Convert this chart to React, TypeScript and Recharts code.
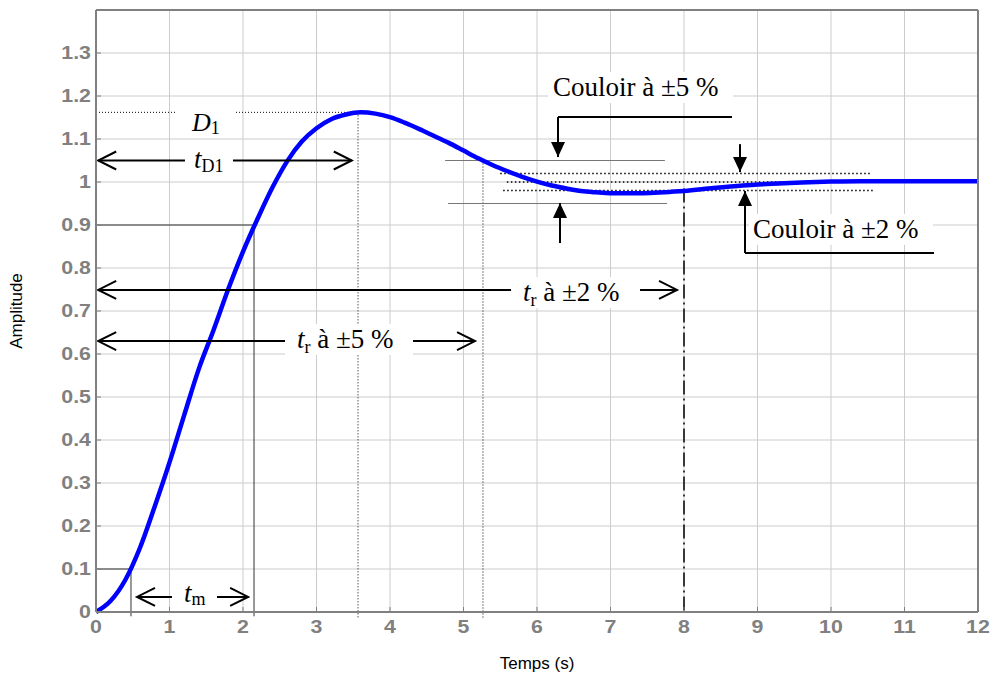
import type { ReactNode } from 'react'
import {
  LineChart,
  Line,
  XAxis,
  YAxis,
  CartesianGrid,
  ReferenceLine,
  ReferenceDot,
} from 'recharts'

// Step response (time in s, amplitude)
const time = [
  0, 0.2, 0.4, 0.6, 0.8, 1, 1.2, 1.4, 1.6, 1.8, 2, 2.2, 2.4, 2.6, 2.8, 3, 3.2, 3.4, 3.6, 3.8, 4,
  4.2, 4.4, 4.6, 4.8, 5, 5.2, 5.4, 5.6, 5.8, 6, 6.2, 6.4, 6.6, 6.8, 7, 7.2, 7.4, 7.6, 7.8, 8, 8.4,
  8.8, 9.2, 9.6, 10, 10.4, 11, 11.5, 12,
]
const amplitude = [
  0, 0.026, 0.075, 0.15, 0.246, 0.348, 0.458, 0.566, 0.656, 0.751, 0.838, 0.915, 0.987, 1.048,
  1.094, 1.125, 1.146, 1.157, 1.162, 1.159, 1.151, 1.138, 1.123, 1.107, 1.091, 1.073, 1.055,
  1.039, 1.025, 1.012, 1.001, 0.992, 0.985, 0.979, 0.976, 0.974, 0.974, 0.974, 0.975, 0.977,
  0.979, 0.986, 0.992, 0.996, 0.999, 1.001, 1.002, 1.002, 1.002, 1.002,
]
const timeTicks = [0, 1, 2, 3, 4, 5, 6, 7, 8, 9, 10, 11, 12]
const amplitudeTicks = [0, 0.1, 0.2, 0.3, 0.4, 0.5, 0.6, 0.7, 0.8, 0.9, 1, 1.1, 1.2, 1.3]

const chartData = time.map((t, i) => ({ t, amplitude: amplitude[i] }))

const SERIF = '"Liberation Serif", "Times New Roman", serif'
const SANS = '"Liberation Sans", Arial, sans-serif'
const GRID = '#cccccc'
const AXIS = '#808080'

type Head = 'none' | 'open' | 'filled'

function head(kind: Head, tx: number, ty: number, fx: number, fy: number) {
  if (kind === 'none') return null
  const dx = tx - fx
  const dy = ty - fy
  const len = Math.hypot(dx, dy) || 1
  const ux = dx / len
  const uy = dy / len
  const L = kind === 'open' ? 18 : 15
  const W = kind === 'open' ? 9 : 7
  const ax = tx - ux * L - uy * W
  const ay = ty - uy * L + ux * W
  const bx = tx - ux * L + uy * W
  const by = ty - uy * L - ux * W
  if (kind === 'open') {
    return <polyline points={`${ax},${ay} ${tx},${ty} ${bx},${by}`} fill="none" stroke="#000" strokeWidth={2} />
  }
  return <polygon points={`${ax},${ay} ${tx},${ty} ${bx},${by}`} fill="#000" />
}

// ReferenceLine shape: a line with optional arrow heads at each end
const arrow = (start: Head, end: Head) => (p: any) => (
  <g>
    <line x1={p.x1} y1={p.y1} x2={p.x2} y2={p.y2} stroke="#000" strokeWidth={2} />
    {head(start, p.x1, p.y1, p.x2, p.y2)}
    {head(end, p.x2, p.y2, p.x1, p.y1)}
  </g>
)

// ReferenceDot shape: text at (cx, cy) with an optional white box behind it
const label = (content: ReactNode, boxLeft: number, boxWidth: number, size = 27) => (p: any) => (
  <g>
    {boxWidth > 0 && (
      <rect x={p.cx - boxLeft} y={p.cy - 24} width={boxWidth} height={31} fill="#fff" />
    )}
    <text x={p.cx} y={p.cy} fontFamily={SERIF} fontSize={size} fill="#000">
      {content}
    </text>
  </g>
)

const sub = (main: string, subText: string, rest = '', dy = 5) => (
  <>
    <tspan fontStyle="italic">{main}</tspan>
    <tspan fontSize={18} dy={dy}>
      {subText}
    </tspan>
    {rest && <tspan dy={-dy}>{rest}</tspan>}
  </>
)

const YTick = (p: any) => (
  <g transform={`translate(${p.x},${p.y}) scale(1.22,1)`}>
    <text x={0} y={0} dy="0.36em" textAnchor="end" fontFamily={SANS} fontWeight="bold" fontSize={17.5} fill={AXIS}>
      {p.payload.value}
    </text>
  </g>
)

const XTick = (p: any) => (
  <g transform={`translate(${p.x},${p.y}) scale(1.22,1)`}>
    <text x={0} y={0} dy="0.71em" textAnchor="middle" fontFamily={SANS} fontWeight="bold" fontSize={17.5} fill={AXIS}>
      {p.payload.value}
    </text>
  </g>
)

const thin = { stroke: '#333', strokeWidth: 1 }
const dotted = { stroke: '#000', strokeWidth: 1, strokeDasharray: '1 2' }
const band2 = { stroke: '#000', strokeWidth: 1.5, strokeDasharray: '1.5 2.5' }
const band5 = { stroke: '#777', strokeWidth: 1.2 }

export default function App() {
  return (
    <div style={{ position: 'absolute', left: 0, top: 0, background: '#fff' }}>
      <LineChart
        width={993}
        height={679}
        data={chartData}
        margin={{ top: 9, right: 14, bottom: 37, left: 36 }}
      >
        <CartesianGrid stroke={GRID} strokeWidth={1} />
        <XAxis
          dataKey="t"
          type="number"
          domain={[0, 12]}
          ticks={timeTicks}
          height={30}
          tickSize={-5}
          tickMargin={14}
          tick={<XTick />}
          tickLine={{ stroke: AXIS }}
          axisLine={{ stroke: AXIS, strokeWidth: 2 }}
        />
        <XAxis
          xAxisId="top"
          orientation="top"
          type="number"
          domain={[0, 12]}
          ticks={timeTicks}
          height={1}
          tickSize={-5}
          tick={false}
          tickLine={{ stroke: AXIS }}
          axisLine={{ stroke: AXIS, strokeWidth: 2 }}
        />
        <YAxis
          type="number"
          domain={[0, 1.4]}
          ticks={amplitudeTicks}
          width={60}
          tickSize={-5}
          tickMargin={10}
          tick={<YTick />}
          tickLine={{ stroke: AXIS }}
          axisLine={{ stroke: AXIS, strokeWidth: 2 }}
        />
        <YAxis
          yAxisId="right"
          orientation="right"
          type="number"
          domain={[0, 1.4]}
          ticks={amplitudeTicks}
          width={1}
          tickSize={-5}
          tick={false}
          tickLine={{ stroke: AXIS }}
          axisLine={{ stroke: AXIS, strokeWidth: 2 }}
        />

        {/* 10 % / 90 % markers */}
        <ReferenceLine segment={[{ x: 0, y: 0.1 }, { x: 0.476, y: 0.1 }]} {...thin} />
        <ReferenceLine segment={[{ x: 0.476, y: 0.1 }, { x: 0.476, y: -0.01 }]} ifOverflow="visible" {...thin} />
        <ReferenceLine segment={[{ x: 0, y: 0.9 }, { x: 2.15, y: 0.9 }]} {...thin} />
        <ReferenceLine segment={[{ x: 2.15, y: 0.9 }, { x: 2.15, y: -0.01 }]} ifOverflow="visible" {...thin} />

        {/* overshoot */}
        <ReferenceLine segment={[{ x: 0, y: 1.162 }, { x: 1.1, y: 1.162 }]} {...dotted} />
        <ReferenceLine segment={[{ x: 1.905, y: 1.162 }, { x: 3.565, y: 1.162 }]} {...dotted} />
        <ReferenceLine segment={[{ x: 3.565, y: 1.162 }, { x: 3.565, y: -0.014 }]} ifOverflow="visible" {...dotted} />

        {/* settling */}
        <ReferenceLine segment={[{ x: 5.265, y: 1.05 }, { x: 5.265, y: -0.014 }]} ifOverflow="visible" {...dotted} />
        <ReferenceLine
          segment={[{ x: 8, y: 0.985 }, { x: 8, y: 0 }]}
          stroke="#000"
          strokeWidth={1.5}
          strokeDasharray="14 4 2 4"
        />

        {/* corridors */}
        <ReferenceLine segment={[{ x: 4.75, y: 1.05 }, { x: 7.74, y: 1.05 }]} {...band5} />
        <ReferenceLine segment={[{ x: 4.79, y: 0.95 }, { x: 7.77, y: 0.95 }]} {...band5} />
        <ReferenceLine segment={[{ x: 5.5, y: 1.02 }, { x: 10.53, y: 1.02 }]} {...band2} />
        <ReferenceLine segment={[{ x: 5.59, y: 1.0 }, { x: 10.46, y: 1.0 }]} {...band2} />
        <ReferenceLine segment={[{ x: 5.54, y: 0.98 }, { x: 10.57, y: 0.98 }]} {...band2} />

        <Line
          type="monotone"
          dataKey="amplitude"
          stroke="#0000ff"
          strokeWidth={4.5}
          dot={false}
          activeDot={false}
          isAnimationActive={false}
        />

        {/* time arrows */}
        <ReferenceLine segment={[{ x: 0.03, y: 1.05 }, { x: 3.48, y: 1.05 }]} shape={arrow('open', 'open')} />
        <ReferenceLine segment={[{ x: 0.558, y: 0.035 }, { x: 2.07, y: 0.035 }]} shape={arrow('open', 'open')} />
        <ReferenceLine segment={[{ x: 0.03, y: 0.63 }, { x: 5.157, y: 0.63 }]} shape={arrow('open', 'open')} />
        <ReferenceLine segment={[{ x: 0.03, y: 0.749 }, { x: 7.905, y: 0.749 }]} shape={arrow('open', 'open')} />

        {/* corridor callouts */}
        <ReferenceLine segment={[{ x: 8.653, y: 1.151 }, { x: 6.286, y: 1.151 }]} shape={arrow('none', 'none')} />
        <ReferenceLine segment={[{ x: 6.286, y: 1.151 }, { x: 6.286, y: 1.058 }]} shape={arrow('none', 'filled')} />
        <ReferenceLine segment={[{ x: 8.762, y: 1.088 }, { x: 8.762, y: 1.023 }]} shape={arrow('none', 'filled')} />
        <ReferenceLine segment={[{ x: 6.313, y: 0.858 }, { x: 6.313, y: 0.951 }]} shape={arrow('none', 'filled')} />
        <ReferenceLine segment={[{ x: 8.83, y: 0.835 }, { x: 8.83, y: 0.979 }]} shape={arrow('none', 'filled')} />
        <ReferenceLine segment={[{ x: 8.83, y: 0.835 }, { x: 11.401, y: 0.835 }]} shape={arrow('none', 'none')} />

        {/* labels */}
        <ReferenceDot x={1.306} y={1.119} r={0} shape={label(sub('D', '1', '', 3), 0, 0, 26)} />
        <ReferenceDot x={1.333} y={1.033} r={0} shape={label(sub('t', 'D1', '', 4), 9, 48)} />
        <ReferenceDot x={1.197} y={0.023} r={0} shape={label(sub('t', 'm', '', 3), 12, 45)} />
        <ReferenceDot x={2.735} y={0.614} r={0} shape={label(sub('t', 'r', ' à ±5 %'), 12, 128)} />
        <ReferenceDot x={5.81} y={0.723} r={0} shape={label(sub('t', 'r', ' à ±2 %'), 12, 129)} />
        <ReferenceDot x={6.218} y={1.2} r={0} shape={label('Couloir à ±5 %', 5, 185)} />
        <ReferenceDot x={8.939} y={0.87} r={0} shape={label('Couloir à ±2 %', 4, 184)} />

        <text x={537} y={669} textAnchor="middle" fontFamily={SANS} fontSize={17} fill="#000">
          Temps (s)
        </text>
        <text
          x={0}
          y={0}
          transform="translate(22,311) rotate(-90)"
          textAnchor="middle"
          fontFamily={SANS}
          fontSize={17}
          fill="#000"
        >
          Amplitude
        </text>
      </LineChart>
    </div>
  )
}
